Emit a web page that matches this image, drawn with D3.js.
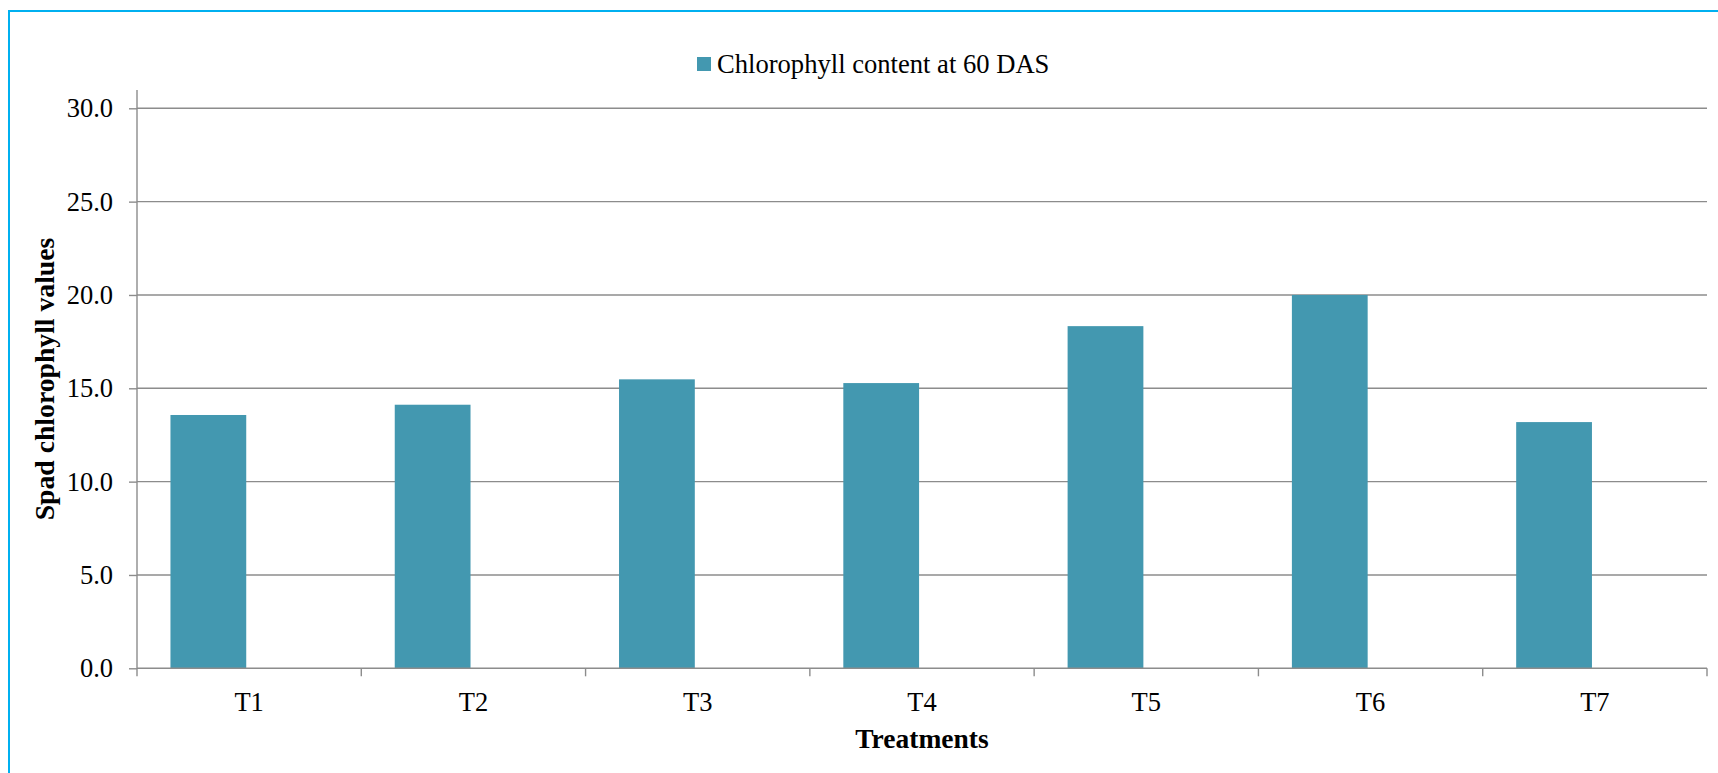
<!DOCTYPE html>
<html>
<head>
<meta charset="utf-8">
<script src="https://cdn.jsdelivr.net/npm/d3@7"></script>
<style>
  html, body { margin: 0; padding: 0; background: #fff; }
  svg { display: block; }
  text { font-family: "Liberation Serif", "Times New Roman", serif; fill: #000; }
</style>
</head>
<body>
<svg id="chart" width="1718" height="773"></svg>
<script>
// ---- data ----
const categories = ["T1", "T2", "T3", "T4", "T5", "T6", "T7"];
const chlorophyll60DAS = [13.57, 14.12, 15.48, 15.28, 18.33, 20.0, 13.19];
const seriesNames = ["Chlorophyll content at 60 DAS", ""];
const yTicks = [0, 5, 10, 15, 20, 25, 30];
const yAxisTitle = "Spad chlorophyll values";
const xAxisTitle = "Treatments";

// ---- layout ----
const W = 1718, H = 773;
const plot = { left: 137, right: 1707, top: 108.3, bottom: 668.3 };
const barColor = "#4398b0";
const gridColor = "#8c8c8c";

const svg = d3.select("#chart");

// frame (blue border, left + top)
svg.append("rect")
  .attr("x", 9).attr("y", 11)
  .attr("width", W + 20).attr("height", H + 20)
  .attr("fill", "none").attr("stroke", "#00b0f0").attr("stroke-width", 2);

const x = d3.scaleBand().domain(categories).range([plot.left, plot.right]).padding(0);
const xInner = d3.scaleBand().domain(seriesNames).range([0, x.bandwidth()])
  .paddingInner(0).paddingOuter(0.48).align(0.46);
const y = d3.scaleLinear().domain([0, 30]).range([plot.bottom, plot.top]);

// gridlines
svg.append("g")
  .selectAll("line")
  .data(yTicks.filter(d => d > 0))
  .join("line")
  .attr("x1", plot.left).attr("x2", plot.right)
  .attr("y1", d => y(d)).attr("y2", d => y(d))
  .attr("stroke", gridColor).attr("stroke-width", 1.4);

// bars
svg.append("g")
  .selectAll("rect")
  .data(categories.map((c, i) => ({ c, v: chlorophyll60DAS[i] })))
  .join("rect")
  .attr("x", d => x(d.c) + xInner(seriesNames[0]))
  .attr("width", xInner.bandwidth())
  .attr("y", d => y(d.v))
  .attr("height", d => y(0) - y(d.v))
  .attr("fill", barColor);

// y axis
const yAxis = d3.axisLeft(y).tickValues(yTicks).tickFormat(d3.format(".1f"))
  .tickSize(8).tickPadding(16);
const gy = svg.append("g").attr("transform", `translate(${plot.left},0)`).call(yAxis);
gy.select(".domain").remove();
gy.selectAll(".tick line").attr("stroke", gridColor).attr("stroke-width", 1.4);
gy.selectAll(".tick text")
  .attr("font-family", "Liberation Serif, Times New Roman, serif")
  .attr("font-size", 26.5).attr("fill", "#000");
svg.append("line")
  .attr("x1", plot.left).attr("x2", plot.left)
  .attr("y1", 90).attr("y2", plot.bottom)
  .attr("stroke", gridColor).attr("stroke-width", 1.4);

// x axis
const xAxis = d3.axisBottom(x).tickSize(0).tickPadding(24);
const gx = svg.append("g").attr("transform", `translate(0,${plot.bottom})`).call(xAxis);
gx.select(".domain").remove();
gx.selectAll(".tick text")
  .attr("font-family", "Liberation Serif, Times New Roman, serif")
  .attr("font-size", 26.5).attr("fill", "#000");
svg.append("line")
  .attr("x1", plot.left).attr("x2", plot.right)
  .attr("y1", plot.bottom).attr("y2", plot.bottom)
  .attr("stroke", gridColor).attr("stroke-width", 1.4);
// category boundary ticks
const boundaries = categories.map(c => x(c)).concat([x.range()[1]]);
svg.append("g").selectAll("line")
  .data(boundaries)
  .join("line")
  .attr("x1", d => d).attr("x2", d => d)
  .attr("y1", plot.bottom).attr("y2", plot.bottom + 8)
  .attr("stroke", gridColor).attr("stroke-width", 1.4);

// axis titles
svg.append("text")
  .attr("transform", `translate(54,379) rotate(-90)`)
  .attr("text-anchor", "middle")
  .attr("font-size", 27.7).attr("font-weight", "bold")
  .text(yAxisTitle);
svg.append("text")
  .attr("x", (plot.left + plot.right) / 2).attr("y", 747.5)
  .attr("text-anchor", "middle")
  .attr("font-size", 27.5).attr("font-weight", "bold")
  .text(xAxisTitle);

// legend
const lg = svg.append("g").attr("transform", "translate(697,57)");
lg.append("rect").attr("width", 14).attr("height", 14).attr("fill", barColor);
lg.append("text").attr("x", 20).attr("y", 16.3).attr("font-size", 26.6).text(seriesNames[0]);
</script>
</body>
</html>
